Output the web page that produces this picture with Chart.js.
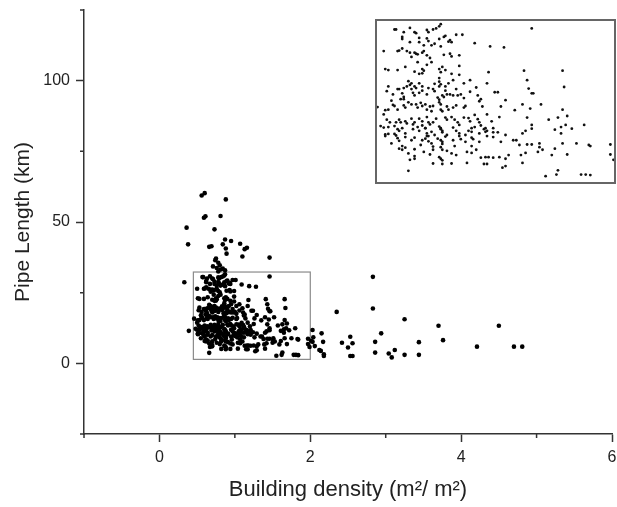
<!DOCTYPE html>
<html>
<head>
<meta charset="utf-8">
<script src="https://cdn.jsdelivr.net/npm/chart.js@4.4.1/dist/chart.umd.min.js"></script>
<style>
  html, body { margin: 0; padding: 0; background: #fff; }
  #wrap { position: relative; width: 617px; height: 507px; }
  #mainChart { position: absolute; left: 0; top: 0; }
  #insetChart { position: absolute; left: 374px; top: 18px; }
</style>
</head>
<body>
<div id="wrap">
  <canvas id="mainChart" width="617" height="507"></canvas>
  <canvas id="insetChart" width="243" height="167"></canvas>
</div>
<script>
// Building density (m2/m2) and pipe length (km) per sample
const density = [
  0.57,0.58,0.63,0.67,0.70,0.71,0.78,0.79,0.82,0.84,
  0.86,0.87,0.78,
  0.62,0.62,0.73,0.78,0.79,0.86,0.89,0.90,0.93,0.94,
  0.97,1.01,0.67,0.73,0.76,0.81,0.83,0.87,0.92,1.09,
  1.19,
  0.50,0.59,0.60,0.62,0.65,0.67,0.70,0.71,0.72,0.75,
  0.76,0.68,0.78,0.80,0.89,0.93,0.94,0.99,0.72,
  0.51,0.53,0.59,0.64,0.70,0.75,0.76,0.78,0.73,0.75,
  0.81,0.86,0.87,0.88,0.90,0.94,0.99,0.99,1.18,
  0.86,0.86,0.87,0.86,0.66,0.68,0.67,0.65,0.70,0.71,
  0.63,0.59,0.73,0.75,0.79,0.83,0.90,0.92,0.95,1.02,
  1.06,1.17,1.22,1.24,0.53,
  0.52,0.56,0.60,0.62,0.63,0.61,0.63,0.68,0.69,0.70,
  0.73,0.75,0.78,0.82,0.83,0.85,0.86,0.86,0.87,0.88,
  0.89,0.90,0.91,0.93,0.95,0.97,0.98,1.00,1.02,1.06,
  1.10,1.11,1.12,1.13,1.14,0.55,0.56,
  0.46,0.51,0.53,0.50,0.57,0.59,0.63,0.64,0.66,0.68,
  0.71,0.72,0.74,0.75,0.77,0.78,0.80,0.81,0.82,0.87,
  0.88,0.91,0.92,0.95,0.97,1.02,1.03,1.05,1.06,1.09,
  1.11,1.17,1.20,1.26,
  0.52,0.54,0.58,0.60,0.61,0.64,0.65,0.68,0.69,0.70,
  0.73,0.75,0.75,0.77,0.78,0.79,0.80,0.82,0.84,0.86,
  0.87,0.90,0.91,0.94,0.96,0.98,0.99,1.02,1.07,1.09,
  1.12,1.13,1.16,1.17,1.21,1.25,
  0.48,0.50,0.53,0.57,0.59,0.60,0.62,0.64,0.69,0.72,
  0.73,0.77,0.78,0.79,0.81,0.83,0.87,0.88,0.88,0.91,
  0.95,0.97,0.99,1.03,1.05,1.07,1.12,1.15,1.16,1.21,
  0.51,0.53,0.57,0.58,
  0.51,0.59,0.60,0.64,0.68,0.70,0.75,0.77,0.78,0.79,
  0.81,0.85,0.87,0.88,0.88,0.90,0.95,0.99,1.00,1.03,
  1.07,1.08,1.12,1.17,1.21,1.24,1.26,0.55,0.62,0.64,
  0.70,0.74,0.82,0.87,0.88,0.96,1.07,
  // right part of the zoom box
  1.28,1.46,1.41,1.66,1.29,1.43,1.44,1.46,1.47,1.52,
  1.67,1.35,1.40,1.45,1.66,1.43,1.57,1.63,1.69,1.36,
  1.40,1.42,1.46,1.46,1.61,1.65,1.65,1.68,1.72,1.80,
  1.29,1.34,1.38,1.43,1.46,1.51,1.51,1.61,1.66,1.75,
  1.83,1.84,1.97,
  // bottom part of the zoom box
  0.60,0.62,0.66,0.70,0.70,0.76,0.80,0.82,0.86,0.87,
  0.88,0.91,0.94,0.97,1.04,1.07,1.10,1.13,1.16,1.18,
  1.21,1.25,1.29,1.31,1.39,1.42,1.50,1.53,1.59,1.69,
  1.97,1.99,0.67,0.82,0.88,0.94,1.04,1.15,1.17,1.27,
  1.29,1.40,0.66,1.55,1.62,1.63,1.78,1.81,1.84,
  // outside the zoom box
  0.56,0.60,0.88,0.59,0.61,0.81,0.36,0.73,0.38,0.66,
  0.69,0.87,0.84,0.88,0.95,1.07,1.13,1.16,1.10,1.46,
  0.89,0.75,0.74,0.71,0.76,0.81,0.87,0.80,0.78,0.84,
  0.33,0.39,2.15,2.17,2.03,2.12,2.18,2.83,2.83,2.35,
  3.25,3.70,4.50,2.94,2.53,3.76,2.03,2.06,2.01,2.04,
  2.42,2.50,2.56,2.86,3.44,2.14,2.18,2.53,2.56,2.86,
  3.04,3.08,3.12,3.25,3.44,4.21,4.70,4.81
];
const pipeLength = [
  30.5,30.5,30.0,30.8,30.0,29.8,30.4,30.0,30.5,30.7,
  31.1,31.5,32.5,
  29.1,28.7,28.9,28.8,28.3,28.7,29.1,29.3,28.5,28.1,
  29.5,29.5,28.1,28.1,27.5,27.5,27.8,27.3,28.2,27.9,
  27.3,
  26.4,26.4,26.5,26.9,26.4,26.1,26.1,25.9,25.8,26.1,
  26.4,25.3,25.6,25.1,25.7,25.9,25.4,25.6,24.3,
  23.0,22.8,22.8,23.4,22.5,23.0,22.7,23.8,22.1,22.2,
  24.3,23.0,22.4,23.4,22.8,22.1,23.6,21.9,22.4,
  21.3,20.6,20.1,19.7,20.7,20.3,20.0,19.7,19.7,19.4,
  19.4,19.2,20.3,19.7,19.4,20.2,19.7,20.3,20.9,20.3,
  20.9,20.3,18.6,18.6,19.7,
  18.8,18.2,19.2,18.4,17.7,17.3,17.3,19.2,18.5,18.0,
  18.5,18.9,18.2,19.2,18.8,17.6,17.2,16.7,16.3,18.0,
  17.7,18.9,18.2,18.2,18.0,19.2,18.0,18.2,17.5,18.7,
  19.5,18.0,16.9,17.3,15.9,17.0,16.2,
  15.8,15.2,15.3,14.4,16.0,15.3,16.1,15.7,16.7,16.3,
  16.3,15.7,16.6,16.0,16.3,15.3,15.9,15.0,16.0,15.3,
  15.0,15.9,15.3,15.7,16.1,15.7,16.0,13.7,13.1,14.3,
  13.5,14.4,13.1,15.9,
  13.4,12.9,12.9,13.4,12.9,13.1,12.7,13.6,12.5,12.9,
  13.6,13.1,12.3,11.8,13.9,12.9,12.5,12.9,13.6,12.1,
  11.8,13.8,13.4,13.9,13.4,12.9,12.4,13.8,11.8,12.0,
  12.9,12.3,11.8,11.3,11.8,13.9,
  12.2,11.9,12.0,12.2,11.6,11.3,11.8,10.8,11.6,12.0,
  11.3,11.8,10.8,10.3,11.1,10.5,11.6,11.3,11.0,10.5,
  11.9,11.3,10.8,10.5,11.3,11.1,10.8,11.6,11.1,11.0,
  10.6,10.7,10.7,10.4,
  10.3,9.9,9.4,10.1,9.5,10.0,9.5,9.8,10.3,9.3,
  8.9,9.8,9.5,9.2,8.8,10.2,9.5,10.3,9.7,9.2,
  10.0,9.7,9.2,10.3,10.1,11.0,9.2,8.9,8.4,8.1,
  7.8,8.6,8.3,8.2,7.7,8.4,8.4,
  // right part of the zoom box
  27.1,30.7,22.7,22.7,17.1,20.9,19.3,18.4,18.4,16.3,
  19.6,15.2,16.3,15.5,15.3,13.8,13.4,13.8,14.1,9.5,
  10.8,11.3,12.4,11.7,11.5,12.0,10.8,12.4,11.7,12.4,
  10.5,9.5,8.6,8.7,8.7,8.9,8.2,7.9,8.9,8.9,
  8.6,8.4,8.7,
  // bottom part of the zoom box
  7.9,7.7,7.0,6.0,6.5,7.3,6.8,7.7,6.3,6.0,
  5.7,7.5,7.0,6.7,7.3,7.1,7.7,6.2,6.3,6.3,
  6.2,6.3,6.0,6.7,6.7,7.1,7.3,7.7,6.7,6.8,
  6.8,5.8,5.8,5.1,5.0,5.1,5.2,5.0,5.0,4.3,
  4.6,5.2,3.7,2.7,3.0,3.8,3.0,3.0,2.9,
  // outside the zoom box
  59.4,60.2,58.0,51.5,52.0,52.1,48.0,47.4,42.1,41.2,
  41.4,43.8,42.1,40.6,43.3,42.3,40.4,40.9,37.8,37.4,
  38.8,37.1,36.5,34.3,33.7,33.2,32.9,34.7,35.6,33.5,
  28.7,11.5,10.6,7.6,11.8,4.7,3.2,30.6,19.4,18.2,
  15.6,13.3,13.3,10.6,9.4,8.2,7.6,6.1,8.0,9.2,
  7.3,5.6,7.1,7.6,7.5,4.4,2.6,2.6,2.6,3.8,
  3.5,2.1,4.7,3.0,3.0,5.9,5.9,5.9
];

// ticks
const xMajor = [0, 2, 4, 6];
const xMinor = [-1, 1, 3, 5];
const yMajor = [0, 50, 100];
const yMinor = [-25, 25, 75, 125];

// region shown enlarged in the inset
const boxX = [0.45, 2.0];
const boxY = [1.4, 32.3];

const AXIS = '#333';
const TEXT = '#222';
const FONT = "'Liberation Sans', Arial, sans-serif";

const points = density.map((x, i) => ({ x, y: pipeLength[i] }));

const minorTicks = {
  id: 'minorTicks',
  afterDraw(chart) {
    const { ctx, scales: { x, y } } = chart;
    ctx.save();
    ctx.strokeStyle = AXIS;
    ctx.lineWidth = 1.5;
    ctx.beginPath();
    xMinor.forEach(v => {
      const px = x.getPixelForValue(v);
      ctx.moveTo(px, x.top);
      ctx.lineTo(px, x.top + 4);
    });
    yMinor.forEach(v => {
      const py = y.getPixelForValue(v);
      ctx.moveTo(y.right, py);
      ctx.lineTo(y.right - 4, py);
    });
    ctx.stroke();
    ctx.restore();
  }
};

const zoomBox = {
  id: 'zoomBox',
  beforeDatasetsDraw(chart) {
    const { ctx, scales: { x, y } } = chart;
    const l = x.getPixelForValue(boxX[0]), r = x.getPixelForValue(boxX[1]);
    const t = y.getPixelForValue(boxY[1]), b = y.getPixelForValue(boxY[0]);
    ctx.save();
    ctx.strokeStyle = '#8a8a8a';
    ctx.lineWidth = 1.2;
    ctx.strokeRect(l, t, r - l, b - t);
    ctx.restore();
  }
};

const insetFrame = {
  id: 'insetFrame',
  afterDraw(chart) {
    const { ctx, chartArea: a } = chart;
    ctx.save();
    ctx.strokeStyle = '#666';
    ctx.lineWidth = 2;
    ctx.strokeRect(a.left, a.top, a.right - a.left, a.bottom - a.top);
    ctx.restore();
  }
};

new Chart(document.getElementById('mainChart'), {
  type: 'scatter',
  data: {
    datasets: [{
      data: points,
      pointRadius: 2.3,
      pointHoverRadius: 2.3,
      backgroundColor: '#000',
      borderWidth: 0
    }]
  },
  options: {
    responsive: false,
    animation: false,
    layout: { padding: { top: 10, right: 5, left: 0, bottom: 0 } },
    plugins: { legend: { display: false }, tooltip: { enabled: false } },
    scales: {
      x: {
        type: 'linear',
        min: -1, max: 6,
        afterFit: s => { s.height = 73; s.paddingLeft = 0; s.paddingRight = 0; },
        border: { color: AXIS, width: 1.5 },
        grid: {
          drawOnChartArea: false,
          tickLength: 8,
          tickWidth: 1.5,
          tickColor: c => xMajor.includes(c.tick && c.tick.value) ? AXIS : 'rgba(0,0,0,0)'
        },
        ticks: {
          stepSize: 1,
          padding: 6,
          color: TEXT,
          font: { family: FONT, size: 16 },
          maxRotation: 0,
          callback: v => xMajor.includes(v) ? v : ''
        },
        title: {
          display: true,
          text: 'Building density (m²/ m²)',
          color: TEXT,
          font: { family: FONT, size: 22 },
          padding: { top: 0, bottom: 4 }
        }
      },
      y: {
        min: -25, max: 125,
        afterFit: s => { s.width = 84; s.paddingTop = 0; s.paddingBottom = 0; },
        border: { color: AXIS, width: 1.5 },
        grid: {
          drawOnChartArea: false,
          tickLength: 8,
          tickWidth: 1.5,
          tickColor: c => yMajor.includes(c.tick && c.tick.value) ? AXIS : 'rgba(0,0,0,0)'
        },
        ticks: {
          stepSize: 25,
          padding: 6,
          color: TEXT,
          font: { family: FONT, size: 16 },
          callback: v => yMajor.includes(v) ? v : ''
        },
        title: {
          display: true,
          text: 'Pipe Length (km)',
          color: TEXT,
          font: { family: FONT, size: 21 },
          padding: { top: 11, bottom: 0 }
        }
      }
    }
  },
  plugins: [zoomBox, minorTicks]
});

new Chart(document.getElementById('insetChart'), {
  type: 'scatter',
  data: {
    datasets: [{
      data: points,
      pointRadius: 1.4,
      pointHoverRadius: 1.4,
      backgroundColor: '#111',
      borderWidth: 0,
      clip: 0
    }]
  },
  options: {
    responsive: false,
    animation: false,
    layout: { padding: 2 },
    plugins: { legend: { display: false }, tooltip: { enabled: false } },
    scales: {
      x: { type: 'linear', display: false, min: boxX[0], max: boxX[1] },
      y: { display: false, min: boxY[0], max: boxY[1] }
    }
  },
  plugins: [insetFrame]
});
</script>
</body>
</html>
